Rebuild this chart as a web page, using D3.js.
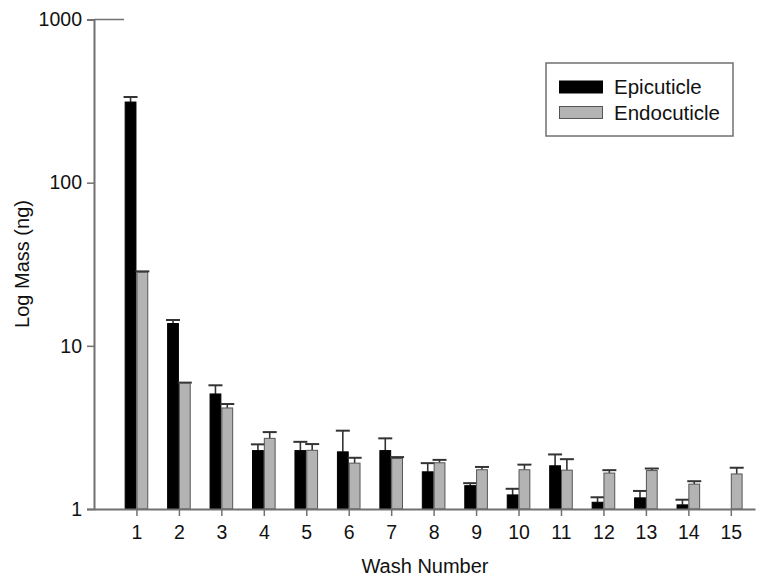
<!DOCTYPE html>
<html>
<head>
<meta charset="utf-8">
<script src="https://cdn.jsdelivr.net/npm/d3@7"></script>
<style>
  html, body { margin: 0; padding: 0; background: #fff; }
  svg text { font-family: "Liberation Sans", Arial, Helvetica, sans-serif; fill: #111; }
</style>
</head>
<body>
<svg id="chart" width="763" height="578"></svg>
<script>
// Wash numbers on the x axis
const washes = [1, 2, 3, 4, 5, 6, 7, 8, 9, 10, 11, 12, 13, 14, 15];
// Mean mass (ng) per wash, epicuticle extracts (no value for wash 15)
const epicuticle = [312, 13.7, 5.07, 2.28, 2.28, 2.24, 2.28, 1.69, 1.39, 1.22, 1.84, 1.10, 1.17, 1.06, null];
const epicuticleErr = [23, 0.7, 0.66, 0.21, 0.30, 0.78, 0.43, 0.22, 0.05, 0.11, 0.32, 0.08, 0.12, 0.08, null];
// Mean mass (ng) per wash, endocuticle extracts
const endocuticle = [28.2, 5.89, 4.16, 2.71, 2.29, 1.91, 2.04, 1.92, 1.74, 1.74, 1.73, 1.66, 1.72, 1.42, 1.64];
const endocuticleErr = [0.4, 0.06, 0.24, 0.25, 0.21, 0.15, 0.04, 0.08, 0.07, 0.13, 0.29, 0.07, 0.05, 0.06, 0.15];
// Log-axis ticks and legend labels
const yTicks = [1, 10, 100, 1000];
const seriesNames = ["Epicuticle", "Endocuticle"];
const seriesColors = ["#000000", "#b3b3b3"];

const svg = d3.select("#chart");
const x = d3.scaleLinear().domain([0, 15.57]).range([94, 755]);
const y = d3.scaleLog().domain([1, 1000]).range([509, 19.5]);

const barW = 11.8;
const capW = 14;
const axisColor = "#707070";

// Bars
const series = [
  { name: seriesNames[0], vals: epicuticle, errs: epicuticleErr, color: seriesColors[0], offset: -barW, stroke: "#000" },
  { name: seriesNames[1], vals: endocuticle, errs: endocuticleErr, color: seriesColors[1], offset: 0, stroke: "#555" }
];

series.forEach(s => {
  const rows = washes.map((w, i) => ({ w, v: s.vals[i], e: s.errs[i] })).filter(d => d.v != null);
  const g = svg.append("g");
  // error bars (upper only)
  g.selectAll("line.stem").data(rows).enter().append("line")
    .attr("x1", d => x(d.w) + s.offset + barW / 2)
    .attr("x2", d => x(d.w) + s.offset + barW / 2)
    .attr("y1", d => y(d.v))
    .attr("y2", d => y(d.v + d.e))
    .attr("stroke", "#333").attr("stroke-width", 1.6);
  g.selectAll("line.cap").data(rows).enter().append("line")
    .attr("x1", d => x(d.w) + s.offset + barW / 2 - capW / 2)
    .attr("x2", d => x(d.w) + s.offset + barW / 2 + capW / 2)
    .attr("y1", d => y(d.v + d.e))
    .attr("y2", d => y(d.v + d.e))
    .attr("stroke", "#333").attr("stroke-width", 2);
  g.selectAll("rect").data(rows).enter().append("rect")
    .attr("x", d => x(d.w) + s.offset + 0.5)
    .attr("width", barW - 1)
    .attr("y", d => y(d.v))
    .attr("height", d => y(1) - y(d.v))
    .attr("fill", s.color)
    .attr("stroke", s.stroke)
    .attr("stroke-width", 1);
});

// Y axis
const yAxis = d3.axisLeft(y).tickValues(yTicks).tickFormat(d3.format("d")).tickSize(7).tickPadding(5);
const gy = svg.append("g").attr("transform", `translate(${x(0)},0)`).call(yAxis);
gy.select(".domain").attr("stroke", axisColor).attr("stroke-width", 2);
gy.selectAll(".tick line").attr("stroke", axisColor).attr("stroke-width", 1.5);
gy.selectAll(".tick text").attr("font-size", 19.5).attr("fill", "#111").style("font-family", "'Liberation Sans', Arial, sans-serif");
// short top rule at 1000
svg.append("line")
  .attr("x1", x(0)).attr("x2", x(0) + 30)
  .attr("y1", y(1000)).attr("y2", y(1000))
  .attr("stroke", axisColor).attr("stroke-width", 1.5);

// X axis
const xAxis = d3.axisBottom(x).tickValues(washes).tickFormat(d3.format("d")).tickSize(7).tickPadding(9).tickSizeOuter(0);
const gx = svg.append("g").attr("transform", `translate(0,${y(1)})`).call(xAxis);
gx.select(".domain").attr("stroke", axisColor).attr("stroke-width", 2);
gx.selectAll(".tick line").attr("stroke", axisColor).attr("stroke-width", 1.5);
gx.selectAll(".tick text").attr("font-size", 19.5).attr("fill", "#111").style("font-family", "'Liberation Sans', Arial, sans-serif");

// Axis titles
svg.append("text")
  .attr("x", 425).attr("y", 573)
  .attr("text-anchor", "middle")
  .attr("font-size", 20)
  .text("Wash Number");
svg.append("text")
  .attr("transform", "translate(29,264) rotate(-90)")
  .attr("text-anchor", "middle")
  .attr("font-size", 20)
  .text("Log Mass (ng)");

// Legend
const lg = svg.append("g");
lg.append("rect")
  .attr("x", 546).attr("y", 63).attr("width", 187).attr("height", 73)
  .attr("fill", "#fff").attr("stroke", axisColor).attr("stroke-width", 1.5);
seriesNames.forEach((n, i) => {
  lg.append("rect")
    .attr("x", 559.5).attr("y", 81 + i * 25.5).attr("width", 43).attr("height", 12)
    .attr("fill", seriesColors[i]).attr("stroke", i === 0 ? "#000" : "#555").attr("stroke-width", 1);
  lg.append("text")
    .attr("x", 614).attr("y", 94 + i * 26)
    .attr("font-size", 20.5)
    .text(n);
});
</script>
</body>
</html>
